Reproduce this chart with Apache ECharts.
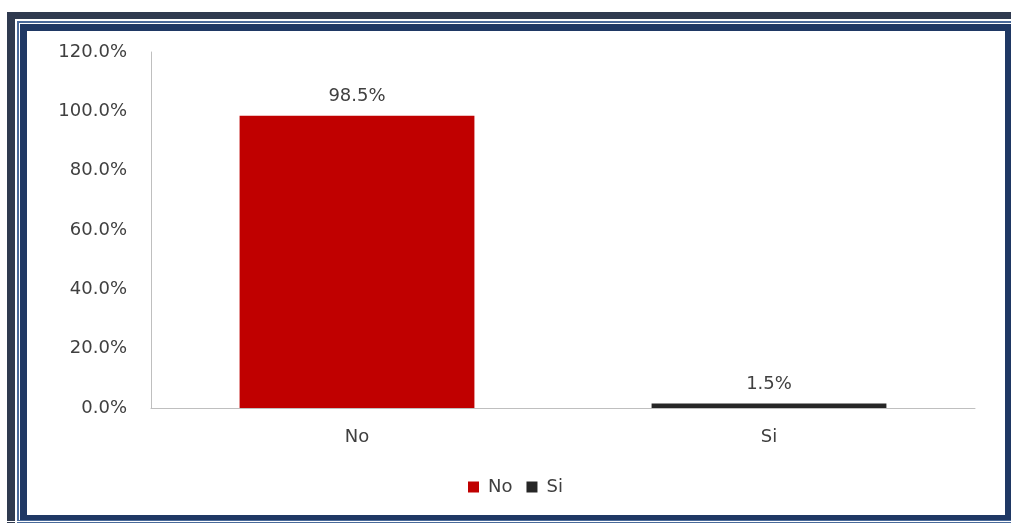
<!DOCTYPE html>
<html>
<head>
<meta charset="utf-8">
<script src="https://cdn.jsdelivr.net/npm/echarts@6/dist/echarts.min.js"></script>
<style>
  html, body { margin: 0; padding: 0; background: #fff; }
  .box { position: absolute; }
  #chart { position: absolute; left: 0; top: 0; width: 1011px; height: 523px; }
</style>
</head>
<body>
<!-- double frame around the chart -->
<div class="box" style="left:7px;top:12px;width:1010px;height:520px;background:#2f3a4f"></div>
<div class="box" style="left:15px;top:19px;width:1000px;height:506px;background:#ffffff"></div>
<div class="box" style="left:17px;top:21px;width:998px;height:502px;background:#4a6a9a"></div>
<div class="box" style="left:19px;top:23px;width:996px;height:497px;background:#ffffff"></div>
<div class="box" style="left:20px;top:24px;width:992px;height:496px;background:#1f3864"></div>
<div class="box" style="left:27px;top:31px;width:978px;height:484px;background:#ffffff"></div>
<div class="box" style="left:0px;top:521px;width:1011px;height:1px;background:#ffffff"></div>
<div id="chart"></div>
<script>
var categories = ['No', 'Si'];
var seriesNames = ['No', 'Si'];
var noValues = [98.5, '-'];
var siValues = ['-', 1.5];
var yTicks = [0, 20, 40, 60, 80, 100, 120];

var myChart = echarts.init(document.getElementById('chart'));
var txt = '#404040';
var font = 'DejaVu Sans';

var option = {
  animation: false,
  backgroundColor: 'transparent',
  grid: { left: 151, right: 36, top: 52, bottom: 115 },
  legend: {
    data: seriesNames,
    left: 463,
    top: 473,
    icon: 'rect',
    itemWidth: 11,
    itemHeight: 11,
    itemGap: 14,
    textStyle: { color: txt, fontSize: 18, fontFamily: font, padding: [0, 0, 0, 4] }
  },
  xAxis: {
    type: 'category',
    data: categories,
    axisLine: { lineStyle: { color: '#bfbfbf', width: 1 } },
    axisTick: { show: false },
    axisLabel: { color: txt, fontSize: 18, fontFamily: font, margin: 20 }
  },
  yAxis: {
    type: 'value',
    min: yTicks[0],
    max: yTicks[yTicks.length - 1],
    interval: 20,
    splitLine: { show: false },
    axisLine: { show: true, lineStyle: { color: '#bfbfbf', width: 1 } },
    axisLabel: {
      color: txt, fontSize: 18, fontFamily: font, margin: 24,
      formatter: function (v) { return v.toFixed(1) + '%'; }
    }
  },
  series: [
    { // No
      name: seriesNames[0],
      type: 'bar',
      stack: 'total',
      barWidth: '57%',
      data: noValues,
      itemStyle: { color: '#c00000' },
      label: {
        show: true, position: 'top', distance: 10,
        color: txt, fontSize: 18, fontFamily: font,
        formatter: function (p) { return p.value.toFixed(1) + '%'; }
      }
    },
    { // Si
      name: seriesNames[1],
      type: 'bar',
      stack: 'total',
      barWidth: '57%',
      data: siValues,
      itemStyle: { color: '#262626' },
      label: {
        show: true, position: 'top', distance: 10,
        color: txt, fontSize: 18, fontFamily: font,
        formatter: function (p) { return p.value.toFixed(1) + '%'; }
      }
    }
  ]
};
myChart.setOption(option);
</script>
</body>
</html>
